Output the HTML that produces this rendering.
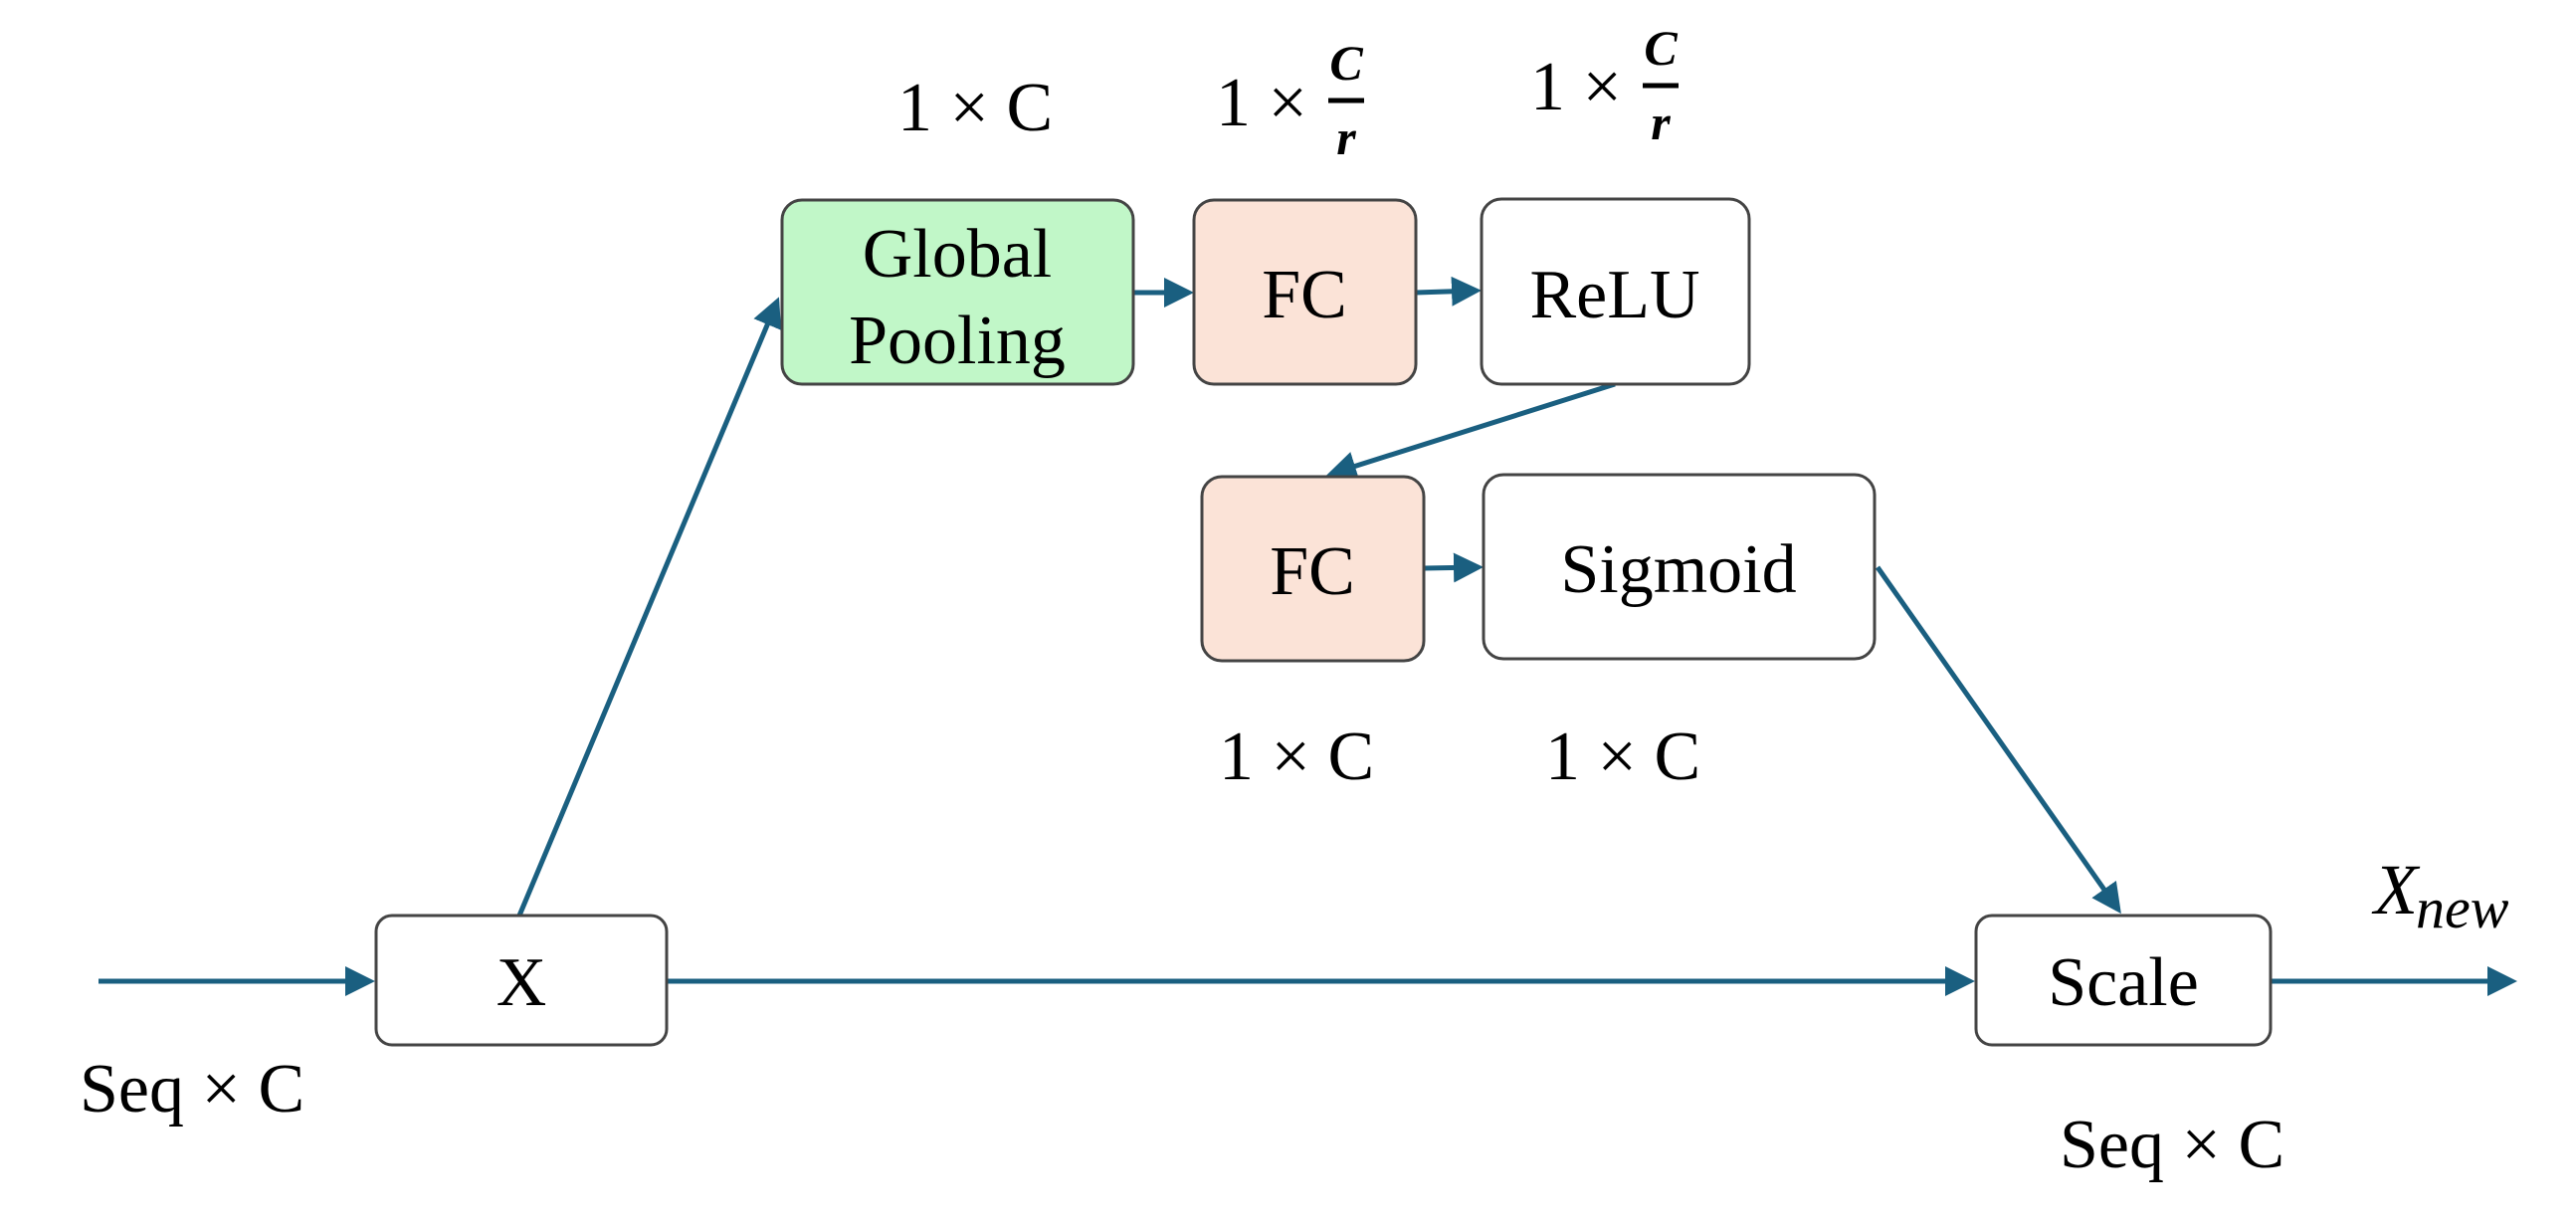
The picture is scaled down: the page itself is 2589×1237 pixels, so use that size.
<!DOCTYPE html>
<html><head><meta charset="utf-8"><style>
html,body{margin:0;padding:0;background:#fff;}
svg{display:block;}
text{font-family:"Liberation Serif",serif;fill:#000;}
</style></head><body>
<svg width="2589" height="1237" viewBox="0 0 2589 1237" xmlns="http://www.w3.org/2000/svg">
<defs>
<marker id="a" markerWidth="6" markerHeight="6" refX="5" refY="3" orient="auto" markerUnits="strokeWidth">
<path d="M0,0 L6,3 L0,6 z" fill="#1a5f80"/>
</marker>
</defs>
<g fill="none" stroke="#1a5f80" stroke-width="5" marker-end="url(#a)">
<line x1="99" y1="986" x2="372" y2="986"/>
<line x1="670" y1="986" x2="1980" y2="986"/>
<line x1="2282" y1="986" x2="2525" y2="986"/>
<line x1="522" y1="920" x2="781" y2="303"/>
<line x1="1139" y1="294" x2="1195" y2="294"/>
<line x1="1423" y1="294" x2="1484" y2="292"/>
<line x1="1623" y1="386" x2="1338" y2="476"/>
<line x1="1431" y1="571" x2="1486" y2="570"/>
<line x1="1887" y1="570" x2="2129" y2="914"/>
</g>
<g stroke="#444" stroke-width="3">
<rect x="786" y="201" width="353" height="185" rx="20" fill="#c1f7c8"/>
<rect x="1200" y="201" width="223" height="185" rx="20" fill="#fbe3d7"/>
<rect x="1489" y="200" width="269" height="186" rx="20" fill="#fff"/>
<rect x="1208" y="479" width="223" height="185" rx="20" fill="#fbe3d7"/>
<rect x="1491" y="477" width="393" height="185" rx="20" fill="#fff"/>
<rect x="378" y="920" width="292" height="130" rx="16" fill="#fff"/>
<rect x="1986" y="920" width="296" height="130" rx="16" fill="#fff"/>
</g>
<g font-size="70" text-anchor="middle">
<text x="962" y="278">Global</text>
<text x="962" y="365">Pooling</text>
<text x="1311" y="319">FC</text>
<text x="1623" y="319">ReLU</text>
<text x="1319" y="597">FC</text>
<text x="1687" y="595">Sigmoid</text>
<text x="524" y="1010">X</text>
<text x="2134" y="1010">Scale</text>
</g>
<g font-size="70">
<text x="902" y="131">1 × C</text>
<text x="1222" y="126">1 ×</text>
<text x="1538" y="110">1 ×</text>
<text x="1225" y="783">1 × C</text>
<text x="1553" y="783">1 × C</text>
<text x="80" y="1117">Seq × C</text>
<text x="2070" y="1173">Seq × C</text>
</g>
<g font-family="'DejaVu Serif',serif" font-style="italic" font-weight="bold" font-size="50" text-anchor="middle">
<text x="1353" y="80">C</text>
<text x="1353" y="155">r</text>
<text x="1669" y="65">C</text>
<text x="1669" y="140">r</text>
</g>
<line x1="1335" y1="101" x2="1371" y2="101" stroke="#000" stroke-width="5"/>
<line x1="1651" y1="86" x2="1687" y2="86" stroke="#000" stroke-width="5"/>
<text x="2386" y="918" font-size="72" font-style="italic">X</text>
<text x="2428" y="932" font-size="58" font-style="italic">new</text>
</svg>
</body></html>
